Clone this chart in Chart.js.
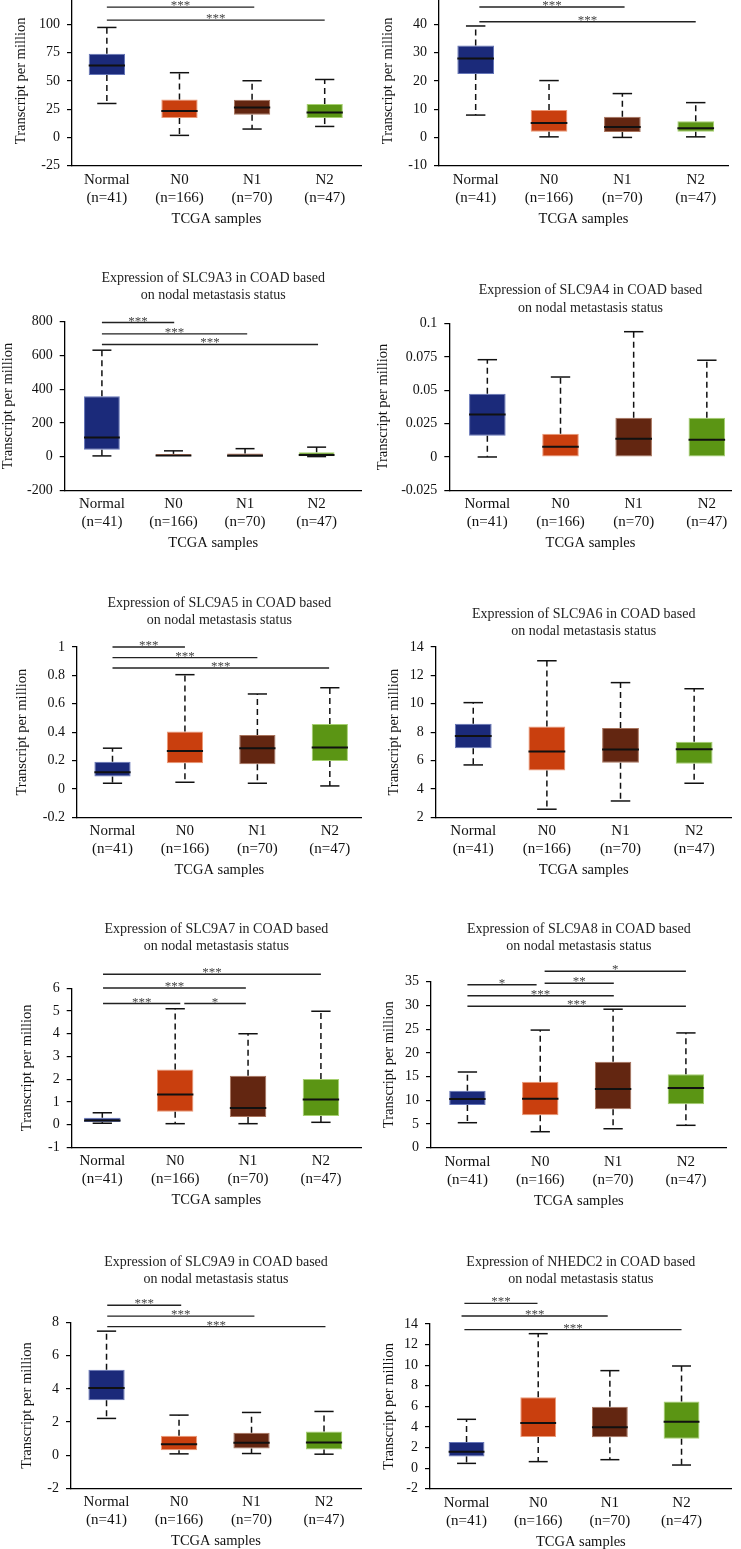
<!DOCTYPE html>
<html>
<head>
<meta charset="utf-8">
<script src="https://cdn.jsdelivr.net/npm/chart.js@4.4.1/dist/chart.umd.min.js"></script>
<style>
  html, body { margin: 0; padding: 0; background: #fff; width: 741px; height: 1549px; overflow: hidden; position: relative; }
  canvas { position: absolute; }
</style>
</head>
<body>
<script>
// --- datos comunes ---
const categories = ['Normal', 'N0', 'N1', 'N2'];
const sampleCounts = ['(n=41)', '(n=166)', '(n=70)', '(n=47)'];
const boxColors = ['#1b2a7a', '#c93f0e', '#632611', '#5b9514'];
const boxEdges  = ['#6676b8', '#ec9a78', '#a8735c', '#a6d070'];

// --- SLC9A1 (arriba a la izquierda, recortado) ---
const a1Low  = [30, 1.8, 7.4, 9.7];
const a1Q1   = [55.1, 17.1, 20, 17.1];
const a1Med  = [63.6, 23.3, 26.5, 22.1];
const a1Q3   = [73.9, 33.6, 33.3, 29.5];
const a1High = [97.2, 57.2, 50.1, 51.2];
const a1Ticks = [-25, 0, 25, 50, 75, 100, 125];
const a1Stars = [[0, 1, 127, '***'], [0, 2.03, 115.2, '***'], [0, 3, 103.7, '***']];

// --- SLC9A2 ---
const a2Low  = [7.9, 0.2, 0, 0.2];
const a2Q1   = [22.4, 2.0, 1.9, 2.0];
const a2Med  = [27.9, 5.1, 3.7, 3.2];
const a2Q3   = [32.5, 9.7, 7.3, 5.7];
const a2High = [39.4, 20.1, 15.5, 12.3];
const a2Ticks = [-10, 0, 10, 20, 30, 40, 50];
const a2Stars = [[0.05, 1, 51, '***'], [0.05, 2.03, 46.1, '***'], [0.05, 3, 40.9, '***']];

// --- SLC9A3 ---
const a3Low  = [4, 0, 0, 0];
const a3Q1   = [40, 0, 0, 2];
const a3Med  = [113, 7, 5, 10];
const a3Q3   = [358, 16, 18, 26];
const a3High = [631, 34, 47, 56];
const a3Ticks = [-200, 0, 200, 400, 600, 800];
const a3Stars = [[0, 1.01, 795, '***'], [0, 2.03, 728, '***'], [0, 3.02, 665, '***']];

// --- SLC9A4 ---
const a4Low  = [0, 0, 0, 0];
const a4Q1   = [0.016, 0, 0, 0];
const a4Med  = [0.0318, 0.0077, 0.0137, 0.013];
const a4Q3   = [0.0475, 0.0175, 0.0295, 0.0295];
const a4High = [0.073, 0.060, 0.094, 0.0726];
const a4Ticks = [-0.025, 0, 0.025, 0.05, 0.075, 0.1];
const a4Stars = [];

// --- SLC9A5 ---
const a5Low  = [0.040, 0.047, 0.040, 0.021];
const a5Q1   = [0.087, 0.181, 0.174, 0.197];
const a5Med  = [0.118, 0.268, 0.287, 0.291];
const a5Q3   = [0.192, 0.404, 0.380, 0.458];
const a5High = [0.287, 0.805, 0.669, 0.713];
const a5Ticks = [-0.2, 0, 0.2, 0.4, 0.6, 0.8, 1];
const a5Stars = [[0, 1, 1.0, '***'], [0, 2, 0.925, '***'], [0, 2.99, 0.852, '***']];

// --- SLC9A6 ---
const a6Low  = [5.69, 2.57, 3.15, 4.40];
const a6Q1   = [6.87, 5.29, 5.85, 5.78];
const a6Med  = [7.73, 6.63, 6.77, 6.79];
const a6Q3   = [8.6, 8.39, 8.30, 7.33];
const a6High = [10.08, 13.03, 11.49, 11.06];
const a6Ticks = [2, 4, 6, 8, 10, 12, 14];
const a6Stars = [];

// --- SLC9A7 ---
const a7Low  = [0.06, 0.04, 0.04, 0.10];
const a7Q1   = [0.11, 0.57, 0.33, 0.38];
const a7Med  = [0.18, 1.32, 0.73, 1.10];
const a7Q3   = [0.30, 2.42, 2.15, 2.01];
const a7High = [0.52, 5.10, 4.00, 4.99];
const a7Ticks = [-1, 0, 1, 2, 3, 4, 5, 6];
const a7Stars = [[0.01, 3, 6.62, '***'], [0.01, 1.97, 6.01, '***'], [0.01, 1.07, 5.33, '***'], [1.125, 1.97, 5.33, '*']];

// --- SLC9A8 ---
const a8Low  = [5.27, 3.37, 4.0, 4.72];
const a8Q1   = [9.0, 6.83, 8.1, 9.14];
const a8Med  = [10.27, 10.33, 12.4, 12.6];
const a8Q3   = [12.02, 13.9, 18.1, 15.5];
const a8High = [15.96, 24.8, 29.2, 24.2];
const a8Ticks = [0, 5, 10, 15, 20, 25, 30, 35];
const a8Stars = [[1.06, 3.0, 37.2, '*'], [1.06, 2.01, 34.66, '**'], [0, 0.95, 34.37, '*'], [0, 2.01, 32.05, '***'], [0, 3.0, 29.81, '***']];

// --- SLC9A9 ---
const a9Low  = [2.22, 0.08, 0.10, 0.06];
const a9Q1   = [3.32, 0.30, 0.40, 0.34];
const a9Med  = [4.05, 0.66, 0.75, 0.77];
const a9Q3   = [5.16, 1.17, 1.35, 1.43];
const a9High = [7.49, 2.42, 2.58, 2.64];
const a9Ticks = [-2, 0, 2, 4, 6, 8];
const a9Stars = [[0.01, 1.03, 9.05, '***'], [0.01, 2.04, 8.40, '***'], [0.01, 3.02, 7.76, '***']];

// --- NHEDC2 ---
const n2Low  = [0.46, 0.63, 0.82, 0.30];
const n2Q1   = [1.14, 3.02, 2.99, 2.86];
const n2Med  = [1.60, 4.38, 3.96, 4.51];
const n2Q3   = [2.54, 6.88, 5.97, 6.46];
const n2High = [4.74, 13.06, 9.47, 9.92];
const n2Ticks = [-2, 0, 2, 4, 6, 8, 10, 12, 14];
const n2Stars = [[-0.03, 0.99, 16.0, '***'], [-0.07, 1.97, 14.78, '***'], [-0.03, 3.0, 13.45, '***']];

// --- paneles: datos + ubicación en la página ---
// box: canvas [x, y, w, h]; area: [izq, arriba, der, abajo] del área de trazado
const panels = [
  { gene: 'SLC9A1', low: a1Low, q1: a1Q1, med: a1Med, q3: a1Q3, high: a1High, ticks: a1Ticks, stars: a1Stars,
    box: [-20, -140, 400, 380], area: [72, -4, 361, 165.7], t1: -52, yTitle: 51, xr: [-0.48, 3.5] },
  { gene: 'SLC9A2', low: a2Low, q1: a2Q1, med: a2Med, q3: a2Q3, high: a2High, ticks: a2Ticks, stars: a2Stars,
    box: [360, -140, 400, 380], area: [439, -4, 728, 165.7], t1: -52, yTitle: 50.7, xr: [-0.5, 3.44] },
  { gene: 'SLC9A3', low: a3Low, q1: a3Q1, med: a3Med, q3: a3Q3, high: a3High, ticks: a3Ticks, stars: a3Stars,
    box: [-20, 240, 400, 320], area: [64.7, 321.7, 361.7, 490.3], t1: 278.3, yTitle: 56.7, xr: [-0.52, 3.63] },
  { gene: 'SLC9A4', low: a4Low, q1: a4Q1, med: a4Med, q3: a4Q3, high: a4High, ticks: a4Ticks, stars: a4Stars,
    box: [360, 240, 400, 320], area: [449.3, 323.7, 731.7, 490.3], t1: 290.7, yTitle: 66, xr: [-0.52, 3.34] },
  { gene: 'SLC9A5', low: a5Low, q1: a5Q1, med: a5Med, q3: a5Q3, high: a5High, ticks: a5Ticks, stars: a5Stars,
    box: [-20, 560, 400, 320], area: [77, 647, 361.7, 817.3], t1: 603.3, yTitle: 54.2, xr: [-0.49, 3.44] },
  { gene: 'SLC9A6', low: a6Low, q1: a6Q1, med: a6Med, q3: a6Q3, high: a6High, ticks: a6Ticks, stars: a6Stars,
    box: [360, 560, 400, 320], area: [435.7, 647, 731.7, 817.3], t1: 614.3, yTitle: 41.5, xr: [-0.51, 3.51] },
  { gene: 'SLC9A7', low: a7Low, q1: a7Q1, med: a7Med, q3: a7Q3, high: a7High, ticks: a7Ticks, stars: a7Stars,
    box: [-20, 880, 400, 335], area: [71.7, 988.3, 361, 1147.3], t1: 929.3, yTitle: 44.2, xr: [-0.42, 3.55] },
  { gene: 'SLC9A8', low: a8Low, q1: a8Q1, med: a8Med, q3: a8Q3, high: a8High, ticks: a8Ticks, stars: a8Stars,
    box: [360, 880, 400, 335], area: [431, 981.7, 726.7, 1147.7], t1: 929.3, yTitle: 41.8, xr: [-0.5, 3.56] },
  { gene: 'SLC9A9', low: a9Low, q1: a9Q1, med: a9Med, q3: a9Q3, high: a9High, ticks: a9Ticks, stars: a9Stars,
    box: [-20, 1215, 400, 340], area: [71, 1322.7, 361, 1488.3], t1: 1262.3, yTitle: 43.5, xr: [-0.49, 3.51] },
  { gene: 'NHEDC2', low: n2Low, q1: n2Q1, med: n2Med, q3: n2Q3, high: n2High, ticks: n2Ticks, stars: n2Stars,
    box: [360, 1215, 400, 340], area: [430, 1324, 731.7, 1488.7], t1: 1262.3, yTitle: 40.8, xr: [-0.51, 3.70] }
];

const SERIF = "'Liberation Serif', 'DejaVu Serif', serif";
const TITLE_LH = 17.5;   // 14px * 1.25
const X_AXIS_H = 62;     // alto fijo de la escala x (ticks + título)

// bigotes punteados, topes y mediana
const whiskerPlugin = {
  id: 'whiskers',
  afterDatasetsDraw(chart) {
    const ds = chart.data.datasets[0];
    const s = ds.stats;
    const meta = chart.getDatasetMeta(0);
    const xs = chart.scales.x, ys = chart.scales.y;
    const ctx = chart.ctx;
    const seg = (x1, y1, x2, y2) => { ctx.beginPath(); ctx.moveTo(x1, y1); ctx.lineTo(x2, y2); ctx.stroke(); };
    ctx.save();
    ctx.strokeStyle = '#111';
    meta.data.forEach((bar, i) => {
      const cx = xs.getPixelForValue(i);
      const half = bar.width / 2;
      const cap = half * 0.53;
      const yLow = ys.getPixelForValue(s.low[i]);
      const yHigh = ys.getPixelForValue(s.high[i]);
      const yQ1 = ys.getPixelForValue(s.q1[i]);
      const yQ3 = ys.getPixelForValue(s.q3[i]);
      ctx.lineWidth = 1.5;
      ctx.setLineDash([6, 4]);
      if (yHigh < yQ3) seg(cx, yQ3, cx, yHigh);
      if (yLow > yQ1) seg(cx, yQ1, cx, yLow);
      ctx.setLineDash([]);
      seg(cx - cap, yHigh, cx + cap, yHigh);
      if (yLow > yQ1) seg(cx - cap, yLow, cx + cap, yLow);
      ctx.lineWidth = 2;
      const yMed = ys.getPixelForValue(s.med[i]);
      seg(cx - half, yMed, cx + half, yMed);
    });
    ctx.restore();
  }
};

// barras de significancia con asteriscos
function bracketPlugin(stars) {
  return {
    id: 'brackets',
    afterDraw(chart) {
      const xs = chart.scales.x, ys = chart.scales.y;
      const ctx = chart.ctx;
      ctx.save();
      ctx.strokeStyle = '#222';
      ctx.lineWidth = 1.4;
      ctx.fillStyle = '#444';
      ctx.font = '13px ' + SERIF;
      ctx.textAlign = 'center';
      ctx.textBaseline = 'alphabetic';
      stars.forEach(([from, to, val, mark]) => {
        const y = ys.getPixelForValue(val);
        const x1 = xs.getPixelForValue(from), x2 = xs.getPixelForValue(to);
        ctx.beginPath(); ctx.moveTo(x1, y); ctx.lineTo(x2, y); ctx.stroke();
        ctx.fillText(mark, (x1 + x2) / 2, y + 2);
      });
      ctx.restore();
    }
  };
}

panels.forEach(p => {
  const [bx, by, bw, bh] = p.box;
  const [L, T, R, B] = p.area;
  const cv = document.createElement('canvas');
  cv.width = bw; cv.height = bh;
  cv.style.left = bx + 'px'; cv.style.top = by + 'px';
  document.body.appendChild(cv);

  const yW = p.yTitle + 9;
  const padTop = p.t1 - by - TITLE_LH / 2;

  new Chart(cv, {
    type: 'bar',
    data: {
      datasets: [{
        data: categories.map((c, i) => ({ x: i, y: [p.q1[i], p.q3[i]] })),
        backgroundColor: boxColors,
        borderColor: boxEdges,
        borderWidth: 1,
        borderSkipped: false,
        categoryPercentage: 1,
        barPercentage: 0.5,
        stats: p
      }]
    },
    options: {
      responsive: false,
      animation: false,
      devicePixelRatio: 1,
      layout: { padding: { left: L - bx - yW, right: bx + bw - R, top: 0, bottom: by + bh - B - X_AXIS_H } },
      plugins: {
        legend: { display: false },
        tooltip: { enabled: false },
        title: {
          display: true,
          fullSize: false,
          text: ['Expression of ' + p.gene + ' in COAD based', 'on nodal metastasis status'],
          color: '#222',
          font: { family: SERIF, size: 14, weight: 'normal', lineHeight: 1.25 },
          padding: { top: padTop, bottom: T - by - padTop - 2 * TITLE_LH }
        }
      },
      scales: {
        x: {
          type: 'linear',
          min: p.xr[0],
          max: p.xr[1],
          offset: false,
          afterBuildTicks: ax => { ax.ticks = categories.map((c, i) => ({ value: i })); },
          afterFit: ax => { ax.height = X_AXIS_H; },
          grid: { display: false, drawTicks: false },
          border: { display: true, color: '#000', width: 1.3 },
          ticks: {
            autoSkip: false, maxRotation: 0, padding: 5, color: '#111',
            font: { family: SERIF, size: 15, lineHeight: 1.2 },
            callback: (v, i) => [categories[i], sampleCounts[i]]
          },
          title: { display: true, text: 'TCGA samples', color: '#111', padding: 0,
                   font: { family: SERIF, size: 14.5, lineHeight: 1.2 } }
        },
        y: {
          min: p.ticks[0],
          max: p.ticks[p.ticks.length - 1],
          afterBuildTicks: ax => { ax.ticks = p.ticks.map(v => ({ value: v })); },
          afterFit: ax => { ax.width = yW; },
          grid: { display: true, drawOnChartArea: false, drawTicks: true, tickLength: 5, color: '#000', lineWidth: 1.2 },
          border: { display: true, color: '#000', width: 1.3 },
          ticks: {
            padding: 7, color: '#111',
            font: { family: SERIF, size: 14 },
            callback: v => String(v)
          },
          title: { display: true, text: 'Transcript per million', color: '#111', padding: 0,
                   font: { family: SERIF, size: 14.5, lineHeight: 1.2 } }
        }
      }
    },
    plugins: [whiskerPlugin, bracketPlugin(p.stars)]
  });
});
</script>
</body>
</html>
